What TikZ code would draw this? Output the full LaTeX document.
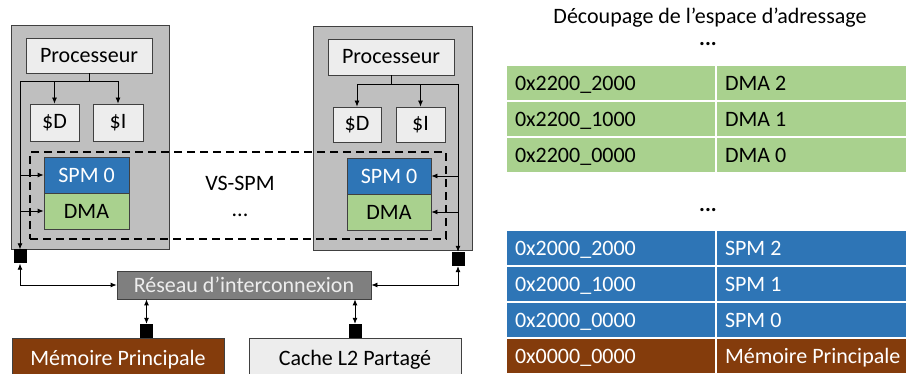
\documentclass[tikz,border=0pt]{standalone}
\usepackage{fontspec}
\setmainfont{Carlito}
\usetikzlibrary{arrows.meta}
\definecolor{cpugray}{HTML}{BFBFBF}
\definecolor{boxgray}{HTML}{EDEDED}
\definecolor{spmblue}{HTML}{2E75B6}
\definecolor{dmagreen}{HTML}{A9D18E}
\definecolor{netgray}{HTML}{7F7F7F}
\definecolor{membrown}{HTML}{843C0C}
\definecolor{edge}{HTML}{404040}

\begin{document}
\begin{tikzpicture}[x=1pt,y=-1pt]
\tikzstyle{every node}+=[inner sep=0pt,font=\fontsize{22}{26}\selectfont]
\tikzstyle{blk}=[draw=edge,line width=0.8pt]
\tikzstyle{port}=[fill=black,minimum width=13pt,minimum height=14pt]
\tikzstyle{wire}=[black,line width=0.8pt]
\tikzstyle{arr}=[wire,-{Latex[length=6pt,width=5pt]}]
\tikzstyle{arrs}=[wire,{Latex[length=6pt,width=5pt]}-{Latex[length=6pt,width=5pt]}]
\tikzstyle{cell}=[draw=white,line width=1.5pt,minimum height=36pt,inner xsep=9pt,align=flush left,text height=18pt,text depth=2pt]
\useasboundingbox (0,0) rectangle (906,374);
% processeur gauche
\node [blk,fill=cpugray,minimum width=158pt,minimum height=224pt] (cpuL) at (90,137) {};
\node [blk,fill=boxgray,minimum width=126pt,minimum height=35pt] (procL) at (89,55.5) {Processeur};
\node [blk,fill=boxgray,minimum width=49pt,minimum height=37pt] (dL) at (54.5,122.5) {\$D};
\node [blk,fill=boxgray,minimum width=50pt,minimum height=37pt] (iL) at (118,122.5) {\$I};
% processeur droite
\node [blk,fill=cpugray,minimum width=159pt,minimum height=224pt] (cpuR) at (392.5,138) {};
\node [blk,fill=boxgray,minimum width=126pt,minimum height=36pt] (procR) at (391,57) {Processeur};
\node [blk,fill=boxgray,minimum width=48pt,minimum height=35pt] (dR) at (357,124.5) {\$D};
\node [blk,fill=boxgray,minimum width=49pt,minimum height=35pt] (iR) at (420.5,124.5) {\$I};
% VS-SPM
\node [draw=black,line width=1.6pt,dash pattern=on 8pt off 5pt,minimum width=416pt,minimum height=87pt] (vs) at (238,195.5) {};
\node (vslabel) at (240,183) {VS-SPM};
\node (vsdots) at (240,215) {...};
\node [blk,fill=spmblue,text=white,minimum width=85pt,minimum height=36pt] (spmL) at (86.5,175) {SPM 0};
\node [blk,fill=dmagreen,minimum width=85pt,minimum height=36pt] (dmaL) at (86.5,211) {DMA};
\node [blk,fill=spmblue,text=white,minimum width=84pt,minimum height=36pt] (spmR) at (389,176) {SPM 0};
\node [blk,fill=dmagreen,minimum width=84pt,minimum height=36pt] (dmaR) at (389,212) {DMA};
% ports
\node [port] (portL) at (20,256.5) {};
\node [port] (portR) at (458,259) {};
\node [port] (memport) at (146.5,331) {};
\node [port] (l2port) at (355,331) {};
% reseau et memoires
\node [blk,fill=netgray,text=boxgray,minimum width=254pt,minimum height=28pt] (net) at (244,285) {Réseau d’interconnexion};
\node [blk,fill=membrown,text=white,minimum width=212pt,minimum height=44pt] (mem) at (118,360) {Mémoire Principale};
\node [blk,fill=boxgray,minimum width=212pt,minimum height=44pt] (l2) at (355,360) {Cache L2 Partagé};
% fils
\coordinate (tapL) at (20,81);
\coordinate (tapR) at (458,84);
\draw [wire] (procL.south) -- (procL.south |- tapL);
\draw [arr] (tapL) -| (dL.north);
\draw [arr] (tapL) -| (iL.north);
\draw [arr] (tapL) -- (portL.north);
\draw [arr] (tapL |- spmL) -- (spmL.west);
\draw [arr] (tapL |- dmaL) -- (dmaL.west);
\draw [wire] (procR.south) -- (procR.south |- tapR) -- (tapR);
\draw [arr] (tapR) -| (iR.north);
\draw [arr] (tapR) -| (dR.north);
\draw [arr] (tapR) -- (portR.north);
\draw [arr] (tapR |- spmR) -- (spmR.east);
\draw [arr] (tapR |- dmaR) -- (dmaR.east);
\draw [arrs] (portL.south) |- (net.west);
\draw [arrs] (portR.south) |- (net.east);
\draw [arrs] (net.south -| memport) -- (memport.north);
\draw [arrs] (net.south -| l2port) -- (l2port.north);
% espace d'adressage
\node (title) at (710,18) {Découpage de l’espace d’adressage};
\node (dotsD) at (708,44) {\textbf{...}};
\node [cell,fill=dmagreen,text width=192pt] (addrD2) at (611,83) {0x2200\_2000};
\node [cell,fill=dmagreen,text width=180pt] (nameD2) at (815,83) {DMA 2};
\node [cell,fill=dmagreen,text width=192pt] (addrD1) at (611,119) {0x2200\_1000};
\node [cell,fill=dmagreen,text width=180pt] (nameD1) at (815,119) {DMA 1};
\node [cell,fill=dmagreen,text width=192pt] (addrD0) at (611,155) {0x2200\_0000};
\node [cell,fill=dmagreen,text width=180pt] (nameD0) at (815,155) {DMA 0};
\node (dotsS) at (708,210) {\textbf{...}};
\node [cell,fill=spmblue,text=white,text width=192pt] (addrS2) at (611,248) {0x2000\_2000};
\node [cell,fill=spmblue,text=white,text width=180pt] (nameS2) at (815,248) {SPM 2};
\node [cell,fill=spmblue,text=white,text width=192pt] (addrS1) at (611,284) {0x2000\_1000};
\node [cell,fill=spmblue,text=white,text width=180pt] (nameS1) at (815,284) {SPM 1};
\node [cell,fill=spmblue,text=white,text width=192pt] (addrS0) at (611,320) {0x2000\_0000};
\node [cell,fill=spmblue,text=white,text width=180pt] (nameS0) at (815,320) {SPM 0};
\node [cell,fill=membrown,text=white,text width=192pt] (addrM) at (611,356) {0x0000\_0000};
\node [cell,fill=membrown,text=white,text width=180pt] (nameM) at (815,356) {Mémoire Principale};
\end{tikzpicture}
\end{document}
